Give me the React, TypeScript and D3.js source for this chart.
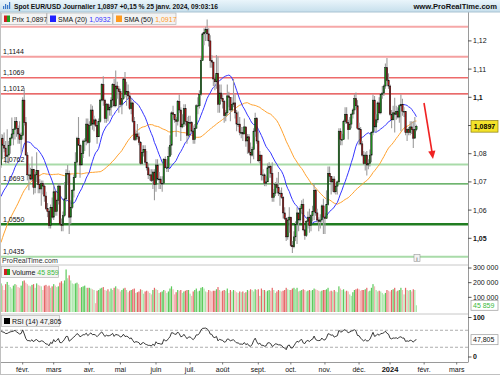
import React, { useEffect, useRef } from "react";
import * as d3 from "d3";

// closes used only to warm up the SMA / RSI (Nov 2022 -> Jan 11 2023)
const warmupCloses = [
  0.9878, 0.9818, 0.975, 0.996, 1.002, 1.0075, 1.0013, 1.021, 1.0355, 1.0325, 1.035, 1.039, 1.0365, 1.0325, 1.0245, 1.0305, 1.0395, 1.041, 1.04, 1.034, 1.033, 1.0405,
  1.0525, 1.0535, 1.049, 1.0465, 1.0505, 1.0555, 1.053, 1.0535, 1.063, 1.068, 1.0625, 1.0585, 1.061, 1.0625, 1.061, 1.0595, 1.0615, 1.064, 1.064, 1.061, 1.066, 1.0705,
  1.067, 1.055, 1.0605, 1.052, 1.0645, 1.073, 1.0735, 1.076,
];

// daily candles, Jan 12 2023 -> Jan 25 2024 (open = previous close)
const closes = [
  1.0855, 1.083, 1.082, 1.079, 1.0795, 1.083, 1.0855, 1.087, 1.0885, 1.0915, 1.089, 1.087, 1.085, 1.0865,
  1.099, 1.091, 1.0795, 1.0725, 1.0725, 1.071, 1.0745, 1.068, 1.0725, 1.074, 1.069, 1.0675, 1.0695, 1.0685, 1.065, 1.0605, 1.0595, 1.0545, 1.061, 1.0575,
  1.0665, 1.0595, 1.0635, 1.0685, 1.055, 1.0545, 1.058, 1.064, 1.073, 1.073, 1.0575, 1.061, 1.067, 1.0715, 1.077, 1.0855, 1.083, 1.076, 1.08, 1.0845, 1.0845, 1.0905, 1.084,
  1.09, 1.0955, 1.0905, 1.092, 1.09, 1.086, 1.0915, 1.099, 1.1045, 1.099, 1.0925, 1.0975, 1.0955, 1.0965, 1.099, 1.1045, 1.097, 1.104, 1.103, 1.102,
  1.0975, 1.0995, 1.1065, 1.101, 1.102, 1.1005, 1.096, 1.098, 1.0915, 1.085, 1.087, 1.086, 1.084, 1.0765, 1.0805, 1.0815, 1.077, 1.075, 1.0725, 1.0725, 1.0705, 1.0735, 1.069,
  1.076, 1.071, 1.071, 1.0695, 1.0695, 1.078, 1.075, 1.075, 1.079, 1.083, 1.0945, 1.094, 1.092, 1.0915, 1.0985, 1.0955, 1.0895, 1.0905, 1.096, 1.0915, 1.0865, 1.091,
  1.091, 1.088, 1.085, 1.089, 1.097, 1.097, 1.101, 1.113, 1.1225, 1.123, 1.124, 1.1225, 1.12, 1.113, 1.1125, 1.1065, 1.1055, 1.1085, 1.0975, 1.1015, 1.0995,
  1.0985, 1.0935, 1.0945, 1.1005, 1.1, 1.0955, 1.0975, 1.098, 1.0945, 1.0905, 1.0905, 1.0875, 1.0875, 1.087, 1.0895, 1.0845, 1.086, 1.0805, 1.0795, 1.0815, 1.088, 1.0925, 1.0845,
  1.0775, 1.0795, 1.0725, 1.0725, 1.0695, 1.07, 1.075, 1.0755, 1.073, 1.0645, 1.066, 1.069, 1.068, 1.066, 1.066, 1.0645, 1.059, 1.057, 1.0505, 1.0565, 1.0575,
  1.0475, 1.047, 1.0505, 1.055, 1.059, 1.0565, 1.0605, 1.062, 1.053, 1.051, 1.056, 1.0575, 1.0545, 1.058, 1.0595, 1.067, 1.059, 1.0565, 1.056, 1.0565, 1.0615, 1.0575,
  1.057, 1.062, 1.073, 1.072, 1.07, 1.071, 1.0665, 1.0685, 1.07, 1.088, 1.085, 1.085, 1.0915, 1.094, 1.091, 1.0885, 1.0905, 1.094, 1.0955, 1.0995, 1.097, 1.089,
  1.0885, 1.0835, 1.0795, 1.0765, 1.0795, 1.076, 1.0765, 1.0795, 1.0875, 1.099, 1.0895, 1.092, 1.098, 1.0945, 1.101, 1.1015, 1.104, 1.1105, 1.106, 1.104,
  1.094, 1.092, 1.0945, 1.094, 1.095, 1.093, 1.097, 1.0975, 1.095, 1.095, 1.0875, 1.0885, 1.0875, 1.0895, 1.0885, 1.0855, 1.0885, 1.0897,
];

const highs = [
  1.087, 1.0868, 1.0875, 1.0845, 1.0887, 1.0845, 1.086, 1.0928, 1.089, 1.093, 1.093, 1.09, 1.0915, 1.0875,
  1.1, 1.1033, 1.093, 1.0805, 1.076, 1.075, 1.079, 1.0745, 1.0735, 1.0805, 1.074, 1.071, 1.0705, 1.0705, 1.0695, 1.0665, 1.0625, 1.06, 1.062, 1.0645,
  1.069, 1.067, 1.064, 1.0695, 1.0695, 1.057, 1.0595, 1.07, 1.0745, 1.076, 1.074, 1.0635, 1.0675, 1.0725, 1.0805, 1.086, 1.093, 1.0835, 1.083, 1.085, 1.0855, 1.0925, 1.0925,
  1.0915, 1.0975, 1.097, 1.0935, 1.0925, 1.0915, 1.0925, 1.0995, 1.105, 1.1075, 1.0995, 1.098, 1.098, 1.0975, 1.1, 1.105, 1.1065, 1.1095, 1.1055, 1.104,
  1.103, 1.101, 1.107, 1.109, 1.1055, 1.1045, 1.102, 1.0995, 1.0985, 1.093, 1.0885, 1.0905, 1.0875, 1.0845, 1.083, 1.083, 1.083, 1.081, 1.0765, 1.0745, 1.0745, 1.0745, 1.0745,
  1.078, 1.078, 1.0735, 1.072, 1.072, 1.0785, 1.079, 1.078, 1.0825, 1.0865, 1.095, 1.097, 1.094, 1.093, 1.099, 1.101, 1.0965, 1.094, 1.0975, 1.0975, 1.093, 1.0935,
  1.0935, 1.0915, 1.09, 1.0905, 1.0975, 1.1, 1.1025, 1.114, 1.123, 1.1245, 1.125, 1.1276, 1.1245, 1.122, 1.115, 1.1125, 1.108, 1.115, 1.1145, 1.1045, 1.1045,
  1.1015, 1.099, 1.0955, 1.1045, 1.102, 1.1, 1.1, 1.1065, 1.101, 1.0955, 1.095, 1.093, 1.0895, 1.0895, 1.0925, 1.0895, 1.087, 1.087, 1.084, 1.0825, 1.089, 1.0945, 1.093,
  1.088, 1.081, 1.0795, 1.0745, 1.073, 1.072, 1.0765, 1.077, 1.076, 1.077, 1.0675, 1.07, 1.0715, 1.0735, 1.067, 1.068, 1.065, 1.061, 1.0575, 1.0575, 1.061,
  1.0575, 1.049, 1.0525, 1.056, 1.061, 1.057, 1.0615, 1.0635, 1.064, 1.0545, 1.0565, 1.0595, 1.0605, 1.0585, 1.0615, 1.0695, 1.0675, 1.0605, 1.0575, 1.0585, 1.062, 1.064,
  1.059, 1.067, 1.0755, 1.0755, 1.072, 1.072, 1.072, 1.0695, 1.0705, 1.089, 1.089, 1.087, 1.092, 1.0965, 1.0965, 1.092, 1.093, 1.0945, 1.096, 1.101, 1.1017, 1.099,
  1.091, 1.0895, 1.0845, 1.081, 1.0805, 1.081, 1.078, 1.0815, 1.088, 1.101, 1.1005, 1.094, 1.0985, 1.1, 1.1015, 1.104, 1.1045, 1.112, 1.1139, 1.1085,
  1.1045, 1.0955, 1.097, 1.0998, 1.097, 1.0965, 1.0975, 1.101, 1.0995, 1.0965, 1.095, 1.089, 1.0895, 1.0915, 1.0915, 1.0915, 1.093, 1.0903,
];

const lows = [
  1.075, 1.078, 1.0805, 1.0765, 1.0767, 1.0765, 1.08, 1.085, 1.083, 1.085, 1.086, 1.0835, 1.0835, 1.08,
  1.085, 1.09, 1.0795, 1.0705, 1.067, 1.0705, 1.0705, 1.0655, 1.066, 1.07, 1.066, 1.066, 1.0615, 1.0655, 1.063, 1.06, 1.0575, 1.0535, 1.0535, 1.057,
  1.0565, 1.058, 1.058, 1.062, 1.0545, 1.0525, 1.0525, 1.0575, 1.063, 1.069, 1.0515, 1.055, 1.0605, 1.0645, 1.0715, 1.076, 1.083, 1.0715, 1.076, 1.0785, 1.081, 1.083, 1.0835,
  1.079, 1.09, 1.0885, 1.088, 1.0895, 1.0835, 1.086, 1.091, 1.0985, 1.097, 1.091, 1.091, 1.0915, 1.0935, 1.0935, 1.0965, 1.0965, 1.0965, 1.0995, 1.0945,
  1.0965, 1.094, 1.099, 1.1, 1.097, 1.0995, 1.0955, 1.094, 1.091, 1.0845, 1.0845, 1.085, 1.083, 1.076, 1.076, 1.079, 1.076, 1.074, 1.071, 1.0705, 1.07, 1.0675, 1.0635,
  1.0665, 1.0705, 1.0675, 1.0675, 1.0665, 1.069, 1.075, 1.0735, 1.0735, 1.079, 1.0795, 1.0925, 1.091, 1.086, 1.09, 1.0945, 1.0845, 1.089, 1.0895, 1.09, 1.0835, 1.0855,
  1.087, 1.0875, 1.0835, 1.0835, 1.089, 1.094, 1.096, 1.1005, 1.113, 1.1185, 1.12, 1.12, 1.118, 1.1105, 1.1105, 1.104, 1.1025, 1.103, 1.0945, 1.0945, 1.099,
  1.096, 1.091, 1.0915, 1.0935, 1.0965, 1.0915, 1.095, 1.0965, 1.0925, 1.088, 1.0895, 1.0865, 1.0855, 1.0845, 1.087, 1.0825, 1.08, 1.08, 1.0765, 1.079, 1.078, 1.086, 1.0835,
  1.077, 1.0765, 1.0705, 1.0705, 1.0685, 1.0685, 1.07, 1.0715, 1.0715, 1.063, 1.063, 1.065, 1.0675, 1.065, 1.0615, 1.064, 1.057, 1.0565, 1.049, 1.0495, 1.052,
  1.047, 1.0448, 1.0465, 1.049, 1.048, 1.0525, 1.0555, 1.0585, 1.0525, 1.0495, 1.0505, 1.0535, 1.052, 1.0525, 1.056, 1.0565, 1.058, 1.0555, 1.0525, 1.0535, 1.0555, 1.0515,
  1.0515, 1.057, 1.0615, 1.07, 1.0655, 1.0665, 1.066, 1.0655, 1.0655, 1.0695, 1.083, 1.083, 1.085, 1.0905, 1.0905, 1.085, 1.089, 1.089, 1.0925, 1.094, 1.096, 1.0885,
  1.083, 1.083, 1.079, 1.076, 1.074, 1.0723, 1.0745, 1.0755, 1.077, 1.0865, 1.088, 1.0875, 1.091, 1.094, 1.094, 1.0995, 1.1005, 1.103, 1.1055, 1.103,
  1.0935, 1.089, 1.0925, 1.0875, 1.092, 1.0925, 1.091, 1.088, 1.0935, 1.093, 1.0865, 1.0845, 1.0865, 1.0865, 1.087, 1.082, 1.086, 1.088,
];

// daily volume, thousands
const volumes = [
  195, 180, 150, 190, 205, 185, 170, 160, 180, 190, 185, 170, 165, 180,
  210, 215, 200, 190, 180, 175, 185, 190, 165, 195, 185, 180, 175, 150, 180, 185, 175, 180, 165, 175,
  190, 180, 170, 175, 200, 210, 195, 215, 290, 230, 250, 215, 195, 190, 195, 200, 190, 165, 170, 175, 180, 165, 165,
  165, 160, 155, 150, 60, 145, 150, 160, 165, 170, 150, 145, 155, 140, 160, 150, 165, 175, 160, 155,
  140, 150, 160, 165, 150, 135, 145, 150, 155, 160, 130, 135, 140, 155, 150, 125, 140, 145, 140, 130, 120, 150, 165,
  155, 150, 130, 135, 140, 150, 145, 130, 140, 160, 175, 155, 120, 135, 150, 145, 150, 130, 140, 145, 150, 150,
  125, 110, 140, 150, 160, 140, 145, 165, 170, 160, 140, 135, 150, 145, 140, 145, 145, 155, 170, 150, 140,
  145, 150, 145, 160, 130, 150, 140, 150, 145, 135, 130, 140, 135, 140, 130, 135, 150, 145, 155, 150, 140, 155, 150,
  155, 110, 160, 150, 150, 140, 145, 150, 145, 165, 150, 130, 140, 150, 145, 140, 145, 150, 165, 155, 150,
  150, 160, 165, 155, 165, 140, 145, 150, 155, 150, 140, 145, 150, 145, 150, 160, 155, 150, 145, 140, 145, 150,
  150, 155, 165, 140, 145, 140, 150, 140, 135, 175, 160, 150, 155, 140, 145, 140, 120, 110, 135, 150, 155, 160,
  155, 145, 150, 150, 155, 165, 140, 145, 165, 190, 175, 150, 140, 145, 140, 130, 120, 130, 150, 145,
  140, 150, 155, 165, 140, 145, 150, 165, 150, 120, 165, 150, 145, 150, 140, 155, 150, 45.859,
];

const monthNames = ["janv.", "févr.", "mars", "avr.", "mai", "juin", "juil.", "août", "sept.", "oct.", "nov.", "déc."];
const resistanceLevels = [1.125, 1.1144, 1.1069, 1.1012];
const supportLevels = [1.0762, 1.0693, 1.055, 1.0435];
const labelledLevels = [1.1144, 1.1069, 1.1012, 1.0762, 1.0693, 1.055, 1.0435];
const priceTicks = [1.12, 1.11, 1.1, 1.09, 1.08, 1.07, 1.06, 1.05];
const volumeTicks = [100000, 200000, 300000];
const rsiTicks = [100, 0];
const rsiBands = [70, 30];

const FONT = "'Liberation Sans', Arial, sans-serif";

const App: React.FC = () => {
  const svgRef = useRef<SVGSVGElement>(null);

  useEffect(() => {
    const svg = d3.select(svgRef.current);
    svg.selectAll("*").remove();

    const plotRight = 468;
    const mainTop = 12;
    const mainBottom = 265;
    const volTop = 265;
    const rsiTop = 314;
    const rsiBottom = 362;

    const nWarm = warmupCloses.length;
    const allCloses = [...warmupCloses, ...closes];

    // calendar of trading days (weekdays, no Dec 25 / Jan 1)
    const days: Date[] = [];
    for (let d = new Date(2022, 10, 1); days.length < nWarm + closes.length + 36; d.setDate(d.getDate() + 1)) {
      const wd = d.getDay();
      if (wd === 0 || wd === 6) continue;
      if (d.getMonth() === 11 && d.getDate() === 25) continue;
      if (d.getMonth() === 0 && d.getDate() === 1) continue;
      days.push(new Date(d));
    }

    const data = closes.map((c, i) => {
      const o = allCloses[i + nWarm - 1];
      return { i, o, c, h: Math.max(highs[i], o, c), l: Math.min(lows[i], o, c), v: volumes[i] * 1000 };
    });

    const sma = (n: number) =>
      data.map((d) => {
        const j = d.i + nWarm;
        return { i: d.i, v: d3.mean(allCloses.slice(j - n + 1, j + 1)) as number };
      });

    // RSI 14 (Wilder)
    const rsiAll: number[] = new Array(allCloses.length).fill(NaN);
    let ag = 0;
    let al = 0;
    for (let k = 1; k < allCloses.length; k++) {
      const diff = allCloses[k] - allCloses[k - 1];
      const g = Math.max(diff, 0);
      const l = Math.max(-diff, 0);
      if (k <= 14) {
        ag += g / 14;
        al += l / 14;
      } else {
        ag = (ag * 13 + g) / 14;
        al = (al * 13 + l) / 14;
      }
      if (k >= 14) rsiAll[k] = 100 - 100 / (1 + ag / al);
    }
    const rsi = data.map((d) => ({ i: d.i, v: rsiAll[d.i + nWarm] }));

    const x = d3.scaleLinear().domain([0, 300]).range([1, 466]);
    const y = d3.scaleLinear().domain([1.05, 1.1]).range([238.3, 97.3]);
    const yVol = d3.scaleLinear().domain([0, 300000]).range([312, 268]);
    const yRsi = d3.scaleLinear().domain([0, 100]).range([360, 317.5]);

    const defs = svg.append("defs");
    defs.append("clipPath").attr("id", "mainClip").append("rect")
      .attr("x", 0).attr("y", mainTop).attr("width", plotRight).attr("height", mainBottom - mainTop);
    const grad = defs.append("linearGradient").attr("id", "titleGrad").attr("x1", 0).attr("x2", 0).attr("y1", 0).attr("y2", 1);
    grad.append("stop").attr("offset", "0%").attr("stop-color", "#eaf5fb");
    grad.append("stop").attr("offset", "100%").attr("stop-color", "#c6dfec");

    svg.append("rect").attr("width", 500).attr("height", 375).attr("fill", "#fff");

    // ---- main price panel
    const main = svg.append("g").attr("clip-path", "url(#mainClip)");

    resistanceLevels.forEach((p, k) => {
      main.append("line").attr("x1", 0).attr("x2", plotRight).attr("y1", y(p)).attr("y2", y(p))
        .attr("stroke", ["#f6a8a8", "#f4a0a0", "#ee6a6a", "#e23838"][k])
        .attr("stroke-width", [2, 2, 1.5, 1.4][k]);
    });
    supportLevels.forEach((p, k) => {
      main.append("line").attr("x1", 0).attr("x2", plotRight).attr("y1", y(p)).attr("y2", y(p))
        .attr("stroke", ["#a9dba9", "#3f9c3f", "#217d21", "#a9dba9"][k])
        .attr("stroke-width", [2, 1.2, 2.4, 2][k]);
    });

    const smaLine = d3.line<{ i: number; v: number }>().x((d) => x(d.i)).y((d) => y(d.v));
    main.append("path").attr("d", smaLine(sma(50))).attr("fill", "none").attr("stroke", "#ffa22e").attr("stroke-width", 1);
    main.append("path").attr("d", smaLine(sma(20))).attr("fill", "none").attr("stroke", "#3535ff").attr("stroke-width", 1);

    const candles = main.append("g");
    data.forEach((d) => {
      const cx = x(d.i);
      candles.append("line").attr("x1", cx).attr("x2", cx).attr("y1", y(d.h)).attr("y2", y(d.l))
        .attr("stroke", "#9c9c9c").attr("stroke-width", 1.1);
      const top = y(Math.max(d.o, d.c));
      const hgt = Math.max(0.7, Math.abs(y(d.o) - y(d.c)));
      candles.append("rect").attr("x", cx - 0.7).attr("width", 1.4).attr("y", top).attr("height", hgt)
        .attr("fill", d.c >= d.o ? "#1e9a1e" : "#b01414").attr("stroke", "#111").attr("stroke-width", 0.5);
    });

    labelledLevels.forEach((p) => {
      svg.append("text").attr("x", 3).attr("y", y(p) - 2.5).text(p.toFixed(4).replace(".", ","))
        .attr("font-family", FONT).attr("font-size", 7).attr("fill", "#111");
    });

    // arrow annotation
    svg.append("line").attr("x1", 424).attr("y1", 103).attr("x2", 432).attr("y2", 152)
      .attr("stroke", "#f02222").attr("stroke-width", 1.6);
    svg.append("path").attr("d", "M433,159 L428.2,151.4 L435.4,150.4 Z").attr("fill", "#f02222");

    svg.append("text").attr("x", 2).attr("y", 263).text("ProRealTime.com")
      .attr("font-family", FONT).attr("font-size", 7).attr("fill", "#333");
    svg.append("rect").attr("x", 414).attr("y", 254.5).attr("width", 6).attr("height", 7)
      .attr("fill", "#f2f2f2").attr("stroke", "#9a9a9a").attr("stroke-width", 0.6);
    svg.append("text").attr("x", 417).attr("y", 260.5).attr("text-anchor", "middle").text("i")
      .attr("font-family", FONT).attr("font-size", 6).attr("fill", "#444");

    // legend boxes
    const legend = (x0: number, w: number, y0: number) =>
      svg.append("rect").attr("x", x0).attr("y", y0).attr("width", w).attr("height", 11.5)
        .attr("fill", "#f3f3f3").attr("stroke", "#b4b4b4").attr("stroke-width", 0.7);
    legend(1.5, 45, 13);
    svg.append("rect").attr("x", 4).attr("y", 15.5).attr("width", 3).attr("height", 6.5).attr("fill", "#d02020");
    svg.append("rect").attr("x", 7).attr("y", 15.5).attr("width", 3).attr("height", 6.5).attr("fill", "#20a020");
    svg.append("text").attr("x", 12).attr("y", 21.5).attr("font-family", FONT).attr("font-size", 7).attr("fill", "#111")
      .text("Prix 1,0897");
    legend(47, 65.5, 13);
    svg.append("rect").attr("x", 50).attr("y", 15.5).attr("width", 6).attr("height", 6.5).attr("fill", "#2020ff");
    const lt2 = svg.append("text").attr("x", 58).attr("y", 21.5).attr("font-family", FONT).attr("font-size", 7).attr("fill", "#111");
    lt2.append("tspan").text("SMA (20) ");
    lt2.append("tspan").attr("fill", "#3434ff").text("1,0932");
    legend(113, 63, 13);
    svg.append("rect").attr("x", 116).attr("y", 15.5).attr("width", 6).attr("height", 6.5).attr("fill", "#ff9a1e");
    const lt3 = svg.append("text").attr("x", 124).attr("y", 21.5).attr("font-family", FONT).attr("font-size", 7).attr("fill", "#111");
    lt3.append("tspan").text("SMA (50) ");
    lt3.append("tspan").attr("fill", "#ff9a1e").text("1,0917");

    // ---- volume panel
    svg.append("line").attr("x1", 0).attr("x2", plotRight).attr("y1", volTop).attr("y2", volTop).attr("stroke", "#c8c8c8");
    data.forEach((d, k) => {
      const bull = d.c >= d.o;
      const lower = k > 0 && d.v < data[k - 1].v;
      const col = bull ? (lower ? "#aae6aa" : "#5cca5c") : (lower ? "#f3b6b6" : "#e46666");
      svg.append("rect").attr("x", x(d.i) - 0.6).attr("width", 1.2).attr("y", yVol(d.v))
        .attr("height", yVol(0) - yVol(d.v)).attr("fill", col);
    });
    svg.append("rect").attr("x", 1.5).attr("y", 266.5).attr("width", 57).attr("height", 11)
      .attr("fill", "#f3f3f3").attr("stroke", "#b4b4b4").attr("stroke-width", 0.7);
    svg.append("rect").attr("x", 4).attr("y", 269).attr("width", 3).attr("height", 6).attr("fill", "#d02020");
    svg.append("rect").attr("x", 7).attr("y", 269).attr("width", 3).attr("height", 6).attr("fill", "#20a020");
    const vt = svg.append("text").attr("x", 12).attr("y", 275).attr("font-family", FONT).attr("font-size", 7).attr("fill", "#111");
    vt.append("tspan").text("Volume ");
    vt.append("tspan").attr("fill", "#3cba3c").text("45 859");

    // ---- RSI panel
    svg.append("line").attr("x1", 0).attr("x2", plotRight).attr("y1", rsiTop).attr("y2", rsiTop).attr("stroke", "#c8c8c8");
    rsiBands.forEach((b) => {
      svg.append("line").attr("x1", 0).attr("x2", plotRight).attr("y1", yRsi(b)).attr("y2", yRsi(b))
        .attr("stroke", "#999").attr("stroke-width", 0.8).attr("stroke-dasharray", "3,2");
    });
    const rsiLine = d3.line<{ i: number; v: number }>().defined((d) => !isNaN(d.v)).x((d) => x(d.i)).y((d) => yRsi(d.v));
    svg.append("path").attr("d", rsiLine(rsi)).attr("fill", "none").attr("stroke", "#222").attr("stroke-width", 0.9);
    svg.append("rect").attr("x", 1.5).attr("y", 315.5).attr("width", 58).attr("height", 11)
      .attr("fill", "#f3f3f3").attr("stroke", "#b4b4b4").attr("stroke-width", 0.7);
    svg.append("rect").attr("x", 4).attr("y", 318).attr("width", 6).attr("height", 6).attr("fill", "#000");
    svg.append("text").attr("x", 12).attr("y", 324).text("RSI (14) 47,805")
      .attr("font-family", FONT).attr("font-size", 7).attr("fill", "#111");

    // ---- frame and axes
    svg.append("line").attr("x1", plotRight + 0.5).attr("x2", plotRight + 0.5).attr("y1", mainTop).attr("y2", rsiBottom).attr("stroke", "#9a9a9a");
    svg.append("line").attr("x1", 0).attr("x2", plotRight + 0.5).attr("y1", rsiBottom + 0.5).attr("y2", rsiBottom + 0.5).attr("stroke", "#9a9a9a");
    svg.append("line").attr("x1", 0.5).attr("x2", 0.5).attr("y1", mainTop).attr("y2", 375).attr("stroke", "#c0c0c0");
    svg.append("line").attr("x1", 0).attr("x2", 500).attr("y1", 374.5).attr("y2", 374.5).attr("stroke", "#c0c0c0");

    const rightAxis = svg.append("g");
    const lastY = y(closes[closes.length - 1]);
    priceTicks.forEach((p) => {
      rightAxis.append("line").attr("x1", plotRight).attr("x2", plotRight + 3.5).attr("y1", y(p)).attr("y2", y(p)).attr("stroke", "#555");
      // the last-price box hides the label it sits on
      if (Math.abs(y(p) - lastY) < 9) return;
      const major = Math.abs(p * 100 - Math.round(p * 20) * 5) < 1e-6;
      rightAxis.append("text").attr("x", 473).attr("y", y(p)).attr("dy", "0.35em")
        .text(String(+p.toFixed(2)).replace(".", ","))
        .attr("font-family", FONT).attr("font-size", 7).attr("font-weight", major ? "bold" : "normal").attr("fill", "#111");
    });
    rightAxis.append("rect").attr("x", 471).attr("y", lastY - 5.8).attr("width", 27).attr("height", 11.6)
      .attr("fill", "#f3e22a").attr("stroke", "#8a7d10").attr("stroke-width", 0.7);
    rightAxis.append("text").attr("x", 484.5).attr("y", lastY).attr("dy", "0.35em").attr("text-anchor", "middle")
      .text("1,0897").attr("font-family", FONT).attr("font-size", 7).attr("font-weight", "bold").attr("fill", "#000");

    const fmtVol = (v: number) => d3.format(",")(v).replace(/,/g, " ");
    volumeTicks.forEach((v) => {
      rightAxis.append("line").attr("x1", plotRight).attr("x2", plotRight + 3.5).attr("y1", yVol(v)).attr("y2", yVol(v)).attr("stroke", "#555");
      rightAxis.append("text").attr("x", 473).attr("y", yVol(v)).attr("dy", "0.35em").text(fmtVol(v))
        .attr("font-family", FONT).attr("font-size", 7).attr("fill", "#111");
    });
    const lastV = data[data.length - 1].v;
    rightAxis.append("rect").attr("x", 471).attr("y", yVol(lastV) - 5).attr("width", 27).attr("height", 10)
      .attr("fill", "#fff").attr("stroke", "#999").attr("stroke-width", 0.7);
    rightAxis.append("text").attr("x", 473).attr("y", yVol(lastV)).attr("dy", "0.35em").text("45 859")
      .attr("font-family", FONT).attr("font-size", 7).attr("fill", "#3cba3c");

    rsiTicks.forEach((v) => {
      const ty = Math.min(yRsi(v), 357);
      rightAxis.append("line").attr("x1", plotRight).attr("x2", plotRight + 3.5).attr("y1", ty).attr("y2", ty).attr("stroke", "#555");
      rightAxis.append("text").attr("x", 473).attr("y", ty).attr("dy", "0.35em").text(String(v))
        .attr("font-family", FONT).attr("font-size", 7).attr("font-weight", "bold").attr("fill", "#111");
    });
    rightAxis.append("rect").attr("x", 471).attr("y", yRsi(47.805) - 5).attr("width", 27).attr("height", 10)
      .attr("fill", "#fff").attr("stroke", "#999").attr("stroke-width", 0.7);
    rightAxis.append("text").attr("x", 473).attr("y", yRsi(47.805)).attr("dy", "0.35em").text("47,805")
      .attr("font-family", FONT).attr("font-size", 7).attr("fill", "#111");

    // month labels
    const bottomAxis = svg.append("g");
    for (let k = 1; k < days.length - nWarm; k++) {
      const cur = days[k + nWarm];
      const prev = days[k + nWarm - 1];
      if (cur.getMonth() === prev.getMonth()) continue;
      const mx = x(k);
      if (mx > plotRight - 4) continue;
      const isYear = cur.getMonth() === 0;
      bottomAxis.append("line").attr("x1", mx).attr("x2", mx).attr("y1", rsiBottom).attr("y2", rsiBottom + 2.5).attr("stroke", "#777");
      bottomAxis.append("text").attr("x", mx).attr("y", 371.5).attr("text-anchor", "middle")
        .text(isYear ? String(cur.getFullYear()) : monthNames[cur.getMonth()])
        .attr("font-family", FONT).attr("font-size", isYear ? 7.5 : 7).attr("font-weight", isYear ? "bold" : "normal").attr("fill", "#111");
    }

    // ---- title bar
    svg.append("rect").attr("x", 0).attr("y", 0).attr("width", 500).attr("height", 12).attr("fill", "url(#titleGrad)");
    svg.append("line").attr("x1", 0).attr("x2", 500).attr("y1", 12).attr("y2", 12).attr("stroke", "#a9c3d2");
    [3, 5, 7, 9].forEach((bx, k) => {
      svg.append("rect").attr("x", bx).attr("y", 9 - [3, 5, 4, 7][k]).attr("width", 1.2).attr("height", [3, 5, 4, 7][k]).attr("fill", "#3a78c8");
    });
    svg.append("text").attr("x", 14).attr("y", 9).text("Spot EUR/USD Journalier 1,0897 +0,15 % 25 janv. 2024, 09:03:16")
      .attr("font-family", FONT).attr("font-size", 7.6).attr("font-weight", "bold").attr("fill", "#111")
      .attr("textLength", 204).attr("lengthAdjust", "spacingAndGlyphs");
    svg.append("text").attr("x", 497).attr("y", 9).attr("text-anchor", "end").text("www.ProRealTime.com")
      .attr("font-family", FONT).attr("font-size", 7.6).attr("font-weight", "bold").attr("fill", "#111");
  }, []);

  return (
    <div style={{ position: "absolute", left: 0, top: 0 }}>
      <svg ref={svgRef} width={500} height={375} style={{ display: "block" }}></svg>
    </div>
  );
};

export default App;
